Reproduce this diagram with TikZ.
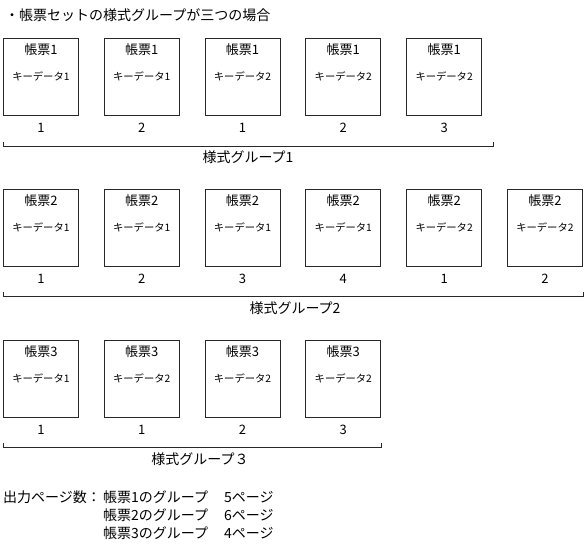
\documentclass[tikz,border=0pt]{standalone}
\usepackage{fontspec}
\setmainfont{Noto Sans CJK JP}
\usetikzlibrary{positioning}
\definecolor{frame}{RGB}{40,40,40}
\tikzset{
  hyobox/.style={draw=frame,line width=0.9pt,minimum width=75pt,minimum height=77pt,inner sep=0pt,anchor=north west},
  hyoname/.style={font=\fontsize{13}{15}\selectfont,inner sep=0pt},
  keytext/.style={font=\fontsize{10.3}{12}\selectfont,inner sep=0pt},
  pageno/.style={font=\fontsize{13}{15}\selectfont,inner sep=0pt},
  grplabel/.style={font=\fontsize{14}{16}\selectfont,inner sep=0pt},
  bracket/.style={draw=frame,line width=0.9pt},
  plain/.style={font=\fontsize{14}{16}\selectfont,inner sep=0pt,anchor=west}
}
\begin{document}
\begin{tikzpicture}[x=1pt,y=-1pt]
  \useasboundingbox (0,0) rectangle (587,545);
  \node[plain] (title) at (5,15) {・帳票セットの様式グループが三つの場合};

  % group 1
  \foreach \i/\k/\n in {1/1/1,2/1/2,3/2/1,4/2/2,5/2/3}{
    \node[hyobox] (ab\i) at ({3+100.8*(\i-1)},38) {};
    \node[hyoname] (an\i) at ([yshift=-12pt]ab\i.north) {帳票1};
    \node[keytext] (ak\i) at ([yshift=-38pt]ab\i.north) {キーデータ\k};
    \node[pageno] (ap\i) at ([yshift=-12pt]ab\i.south) {\n};
  }
  \coordinate (ag1) at (3,146);
  \coordinate (ag2) at (493,146);
  \draw[bracket] (ag1) ++(0,-4) -- (ag1) -- (ag2) -- ++(0,-4);
  \node[grplabel] (agl) at (248,157) {様式グループ1};

  % group 2
  \foreach \i/\k/\n in {1/1/1,2/1/2,3/1/3,4/1/4,5/2/1,6/2/2}{
    \node[hyobox] (bb\i) at ({3+100.8*(\i-1)},189) {};
    \node[hyoname] (bn\i) at ([yshift=-12pt]bb\i.north) {帳票2};
    \node[keytext] (bk\i) at ([yshift=-38pt]bb\i.north) {キーデータ\k};
    \node[pageno] (bp\i) at ([yshift=-12pt]bb\i.south) {\n};
  }
  \coordinate (bg1) at (3,296);
  \coordinate (bg2) at (583,296);
  \draw[bracket] (bg1) ++(0,-4) -- (bg1) -- (bg2) -- ++(0,-4);
  \node[grplabel] (bgl) at (295,308) {様式グループ2};

  % group 3
  \foreach \i/\k/\n in {1/1/1,2/2/1,3/2/2,4/2/3}{
    \node[hyobox] (cb\i) at ({3+100.8*(\i-1)},340) {};
    \node[hyoname] (cn\i) at ([yshift=-12pt]cb\i.north) {帳票3};
    \node[keytext] (ck\i) at ([yshift=-38pt]cb\i.north) {キーデータ\k};
    \node[pageno] (cp\i) at ([yshift=-12pt]cb\i.south) {\n};
  }
  \coordinate (cg1) at (3,447);
  \coordinate (cg2) at (381,447);
  \draw[bracket] (cg1) ++(0,-4) -- (cg1) -- (cg2) -- ++(0,-4);
  \node[grplabel] (cgl) at (200,459) {様式グループ３};

  % page count
  \node[plain] (out) at (3,497) {出力ページ数：};
  \node[plain] (o1) at (103,497) {帳票1のグループ};
  \node[plain] (o2) at (103,515) {帳票2のグループ};
  \node[plain] (o3) at (103,533) {帳票3のグループ};
  \node[plain] (p1) at (224,497) {5ページ};
  \node[plain] (p2) at (224,515) {6ページ};
  \node[plain] (p3) at (224,533) {4ページ};
\end{tikzpicture}
\end{document}
